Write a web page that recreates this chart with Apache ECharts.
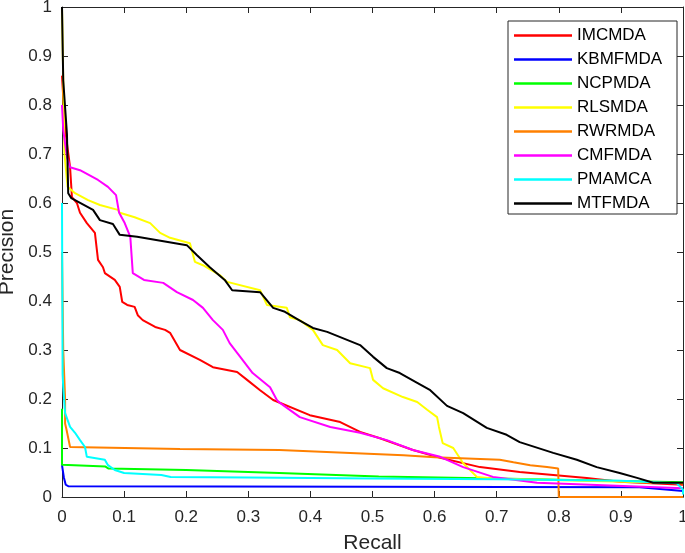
<!DOCTYPE html>
<html>
<head>
<meta charset="utf-8">
<script src="https://cdn.jsdelivr.net/npm/echarts@6/dist/echarts.min.js"></script>
<style>html,body{margin:0;padding:0;background:#fff}#c{width:685px;height:553px}</style>
</head>
<body>
<div id="c"></div>
<script>
var seriesNames = ['IMCMDA','KBMFMDA','NCPMDA','RLSMDA','RWRMDA','CMFMDA','PMAMCA','MTFMDA'];
var seriesColors = ['#ff0000','#0000ff','#00ff00','#ffff00','#ff8000','#ff00ff','#00ffff','#000000'];
var xTicks = [0,0.1,0.2,0.3,0.4,0.5,0.6,0.7,0.8,0.9,1];
var yTicks = [0,0.1,0.2,0.3,0.4,0.5,0.6,0.7,0.8,0.9,1];

var IMCMDA = [[0,0.86],[0.005,0.75],[0.013,0.673],[0.016,0.612],[0.024,0.600],[0.029,0.580],[0.040,0.559],[0.053,0.539],[0.058,0.484],[0.066,0.469],[0.069,0.457],[0.085,0.443],[0.093,0.429],[0.097,0.398],[0.105,0.392],[0.117,0.388],[0.122,0.371],[0.130,0.361],[0.150,0.347],[0.166,0.341],[0.174,0.335],[0.190,0.300],[0.222,0.280],[0.243,0.265],[0.282,0.255],[0.298,0.239],[0.319,0.218],[0.340,0.198],[0.399,0.167],[0.448,0.153],[0.480,0.133],[0.512,0.120],[0.565,0.096],[0.609,0.080],[0.673,0.061],[0.737,0.051],[0.791,0.045],[0.845,0.039],[0.898,0.031],[1.0,0.025]];
var KBMFMDA = [[0,0.065],[0.003,0.04],[0.006,0.025],[0.01,0.022],[0.5,0.021],[0.93,0.020],[1.0,0.012]];
var NCPMDA = [[0,0.18],[0,0.066],[0.002,0.066],[0.07,0.062],[0.075,0.058],[0.2,0.055],[0.35,0.049],[0.51,0.042],[0.7,0.038],[1.0,0.030]];
var RLSMDA = [[0,1],[0.004,0.7],[0.009,0.633],[0.021,0.62],[0.042,0.606],[0.061,0.596],[0.090,0.586],[0.093,0.580],[0.117,0.571],[0.142,0.559],[0.158,0.539],[0.174,0.529],[0.206,0.518],[0.214,0.48],[0.227,0.473],[0.254,0.453],[0.266,0.439],[0.319,0.422],[0.330,0.392],[0.362,0.386],[0.367,0.367],[0.383,0.361],[0.404,0.341],[0.420,0.310],[0.443,0.300],[0.464,0.273],[0.496,0.263],[0.501,0.239],[0.517,0.222],[0.549,0.204],[0.572,0.194],[0.588,0.178],[0.604,0.163],[0.607,0.143],[0.613,0.11],[0.63,0.1],[0.646,0.069],[0.668,0.041],[0.694,0.038],[1.0,0.028]];
var RWRMDA = [[0,0.5],[0.002,0.3],[0.005,0.2],[0.005,0.15],[0.008,0.133],[0.013,0.102],[0.016,0.100],[0.19,0.098],[0.35,0.096],[0.55,0.085],[0.6,0.081],[0.705,0.076],[0.727,0.071],[0.754,0.065],[0.781,0.061],[0.799,0.058],[0.80,0],[1.0,0]];
var CMFMDA = [[0,0.80],[0.002,0.749],[0.008,0.694],[0.013,0.673],[0.029,0.667],[0.058,0.647],[0.074,0.633],[0.087,0.616],[0.090,0.612],[0.092,0.580],[0.101,0.559],[0.110,0.531],[0.114,0.457],[0.132,0.443],[0.163,0.437],[0.185,0.418],[0.211,0.402],[0.227,0.386],[0.243,0.361],[0.259,0.341],[0.270,0.314],[0.287,0.286],[0.307,0.253],[0.335,0.224],[0.346,0.198],[0.351,0.192],[0.383,0.163],[0.432,0.143],[0.480,0.131],[0.523,0.116],[0.565,0.096],[0.609,0.082],[0.646,0.061],[0.694,0.041],[0.765,0.029],[1.0,0.018]];
var PMAMCA = [[0,0.6],[0.001,0.25],[0.002,0.224],[0.005,0.171],[0.013,0.143],[0.021,0.131],[0.029,0.116],[0.037,0.102],[0.040,0.082],[0.069,0.076],[0.074,0.065],[0.085,0.055],[0.1,0.049],[0.16,0.045],[0.175,0.041],[0.3,0.040],[0.5,0.038],[0.7,0.036],[0.9,0.033],[0.99,0.028],[1.0,0.015],[1.0,0.005]];
var MTFMDA = [[0,1],[0.002,0.85],[0.008,0.74],[0.010,0.62],[0.015,0.61],[0.050,0.586],[0.061,0.565],[0.082,0.557],[0.093,0.535],[0.121,0.531],[0.201,0.514],[0.217,0.494],[0.238,0.469],[0.262,0.443],[0.274,0.422],[0.319,0.418],[0.340,0.386],[0.359,0.378],[0.383,0.360],[0.404,0.345],[0.427,0.337],[0.480,0.310],[0.501,0.286],[0.523,0.263],[0.544,0.253],[0.572,0.233],[0.593,0.218],[0.620,0.186],[0.646,0.171],[0.684,0.141],[0.716,0.127],[0.737,0.112],[0.791,0.090],[0.829,0.076],[0.861,0.061],[0.898,0.049],[0.926,0.039],[0.952,0.029],[1.0,0.029]];

var allData = [IMCMDA,KBMFMDA,NCPMDA,RLSMDA,RWRMDA,CMFMDA,PMAMCA,MTFMDA];
var FONT = 'Liberation Sans, Arial, Helvetica, sans-serif';
var AX = '#262626';

var chart = echarts.init(document.getElementById('c'), null, {renderer:'canvas'});
var series = seriesNames.map(function(n,i){
  return {name:n,type:'line',data:allData[i],symbol:'none',showSymbol:false,
    lineStyle:{color:seriesColors[i],width:2},itemStyle:{color:seriesColors[i]},
    animation:false,silent:true,xAxisIndex:0,yAxisIndex:0};
});
function baseAxis(extra, margin){
  var a = {type:'value',min:0,max:1,interval:0.1,
    axisLine:{show:true,onZero:false,lineStyle:{color:AX,width:1}},
    axisTick:{show:true,inside:true,length:6,lineStyle:{color:AX}},
    splitLine:{show:false},
    axisLabel:{show:true,color:AX,fontSize:17,fontFamily:FONT,margin:margin||9}};
  for (var k in extra) a[k]=extra[k];
  return a;
}
chart.setOption({
  backgroundColor:'#fff',
  animation:false,
  grid:{left:62,right:2,top:7,bottom:56,show:false,containLabel:false,outerBoundsMode:'none'},
  legend:{data:seriesNames.map(function(n,i){return {name:n,itemStyle:{color:seriesColors[i]}};}),
    orient:'vertical',left:508,top:21,
    icon:'rect',itemWidth:58,itemHeight:2.5,itemGap:7,
    padding:[6,15,2,6],borderColor:AX,borderWidth:1,backgroundColor:'#fff',
    textStyle:{color:'#000',fontSize:17,fontFamily:FONT},
    selectedMode:false},
  xAxis:[
    baseAxis({position:'bottom',name:'Recall',nameLocation:'middle',nameGap:36,
      nameTextStyle:{color:AX,fontSize:21,fontFamily:FONT}}, 12),
    baseAxis({position:'top',axisLabel:{show:false}})
  ],
  yAxis:[
    baseAxis({position:'left',name:'Precision',nameLocation:'middle',nameGap:43,
      nameTextStyle:{color:AX,fontSize:21,fontFamily:FONT}}, 10),
    baseAxis({position:'right',axisLabel:{show:false}})
  ],
  series:series
});
</script>
</body>
</html>
